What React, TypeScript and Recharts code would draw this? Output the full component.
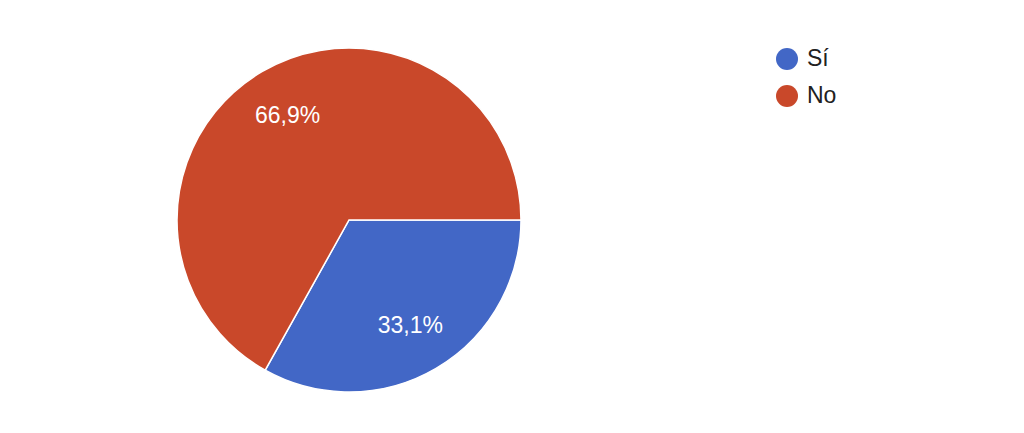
import React from 'react';
import { PieChart, Pie, Cell, Legend } from 'recharts';

const categories = ['Sí', 'No'];
const values = [33.1, 66.9];
const colors = ['#4267C6', '#C9482A'];

const data = categories.map((name, i) => ({ name, value: values[i] }));

const RAD = Math.PI / 180;

const renderLabel = (props: any) => {
  const { cx, cy, midAngle, outerRadius, percent } = props;
  const r = outerRadius * 0.705;
  const x = cx + r * Math.cos(-midAngle * RAD);
  const y = cy + r * Math.sin(-midAngle * RAD);
  return (
    <text
      x={x}
      y={y}
      fill="#ffffff"
      textAnchor="middle"
      dominantBaseline="central"
      fontSize={23}
      fontFamily="Arial, 'Liberation Sans', sans-serif"
    >
      {(percent * 100).toFixed(1).replace('.', ',') + '%'}
    </text>
  );
};

const renderLegend = () => (
  <div style={{ fontFamily: "Arial, 'Liberation Sans', sans-serif" }}>
    {categories.map((c, i) => (
      <div key={c} style={{ display: 'flex', alignItems: 'center', height: 37 }}>
        <svg width={22} height={22} style={{ marginRight: 9 }}>
          <circle cx={11} cy={11} r={11} fill={colors[i]} />
        </svg>
        <span style={{ fontSize: 23, color: '#212121' }}>{c}</span>
      </div>
    ))}
  </div>
);

export default function App() {
  return (
    <div style={{ position: 'absolute', left: 0, top: 0, width: 1024, height: 433, background: '#fff' }}>
      <PieChart width={1024} height={433} margin={{ top: 0, right: 0, bottom: 0, left: 0 }}>
        <Pie
          data={data}
          dataKey="value"
          nameKey="name"
          cx={349}
          cy={220}
          outerRadius={172}
          startAngle={0}
          endAngle={-360}
          stroke="#ffffff"
          strokeWidth={1.5}
          label={renderLabel}
          labelLine={false}
          isAnimationActive={false}
        >
          {data.map((d, i) => (
            <Cell key={d.name} fill={colors[i]} />
          ))}
        </Pie>
        <Legend
          content={renderLegend}
          layout="vertical"
          wrapperStyle={{ position: 'absolute', left: 776, top: 40, width: 150 }}
        />
      </PieChart>
    </div>
  );
}
